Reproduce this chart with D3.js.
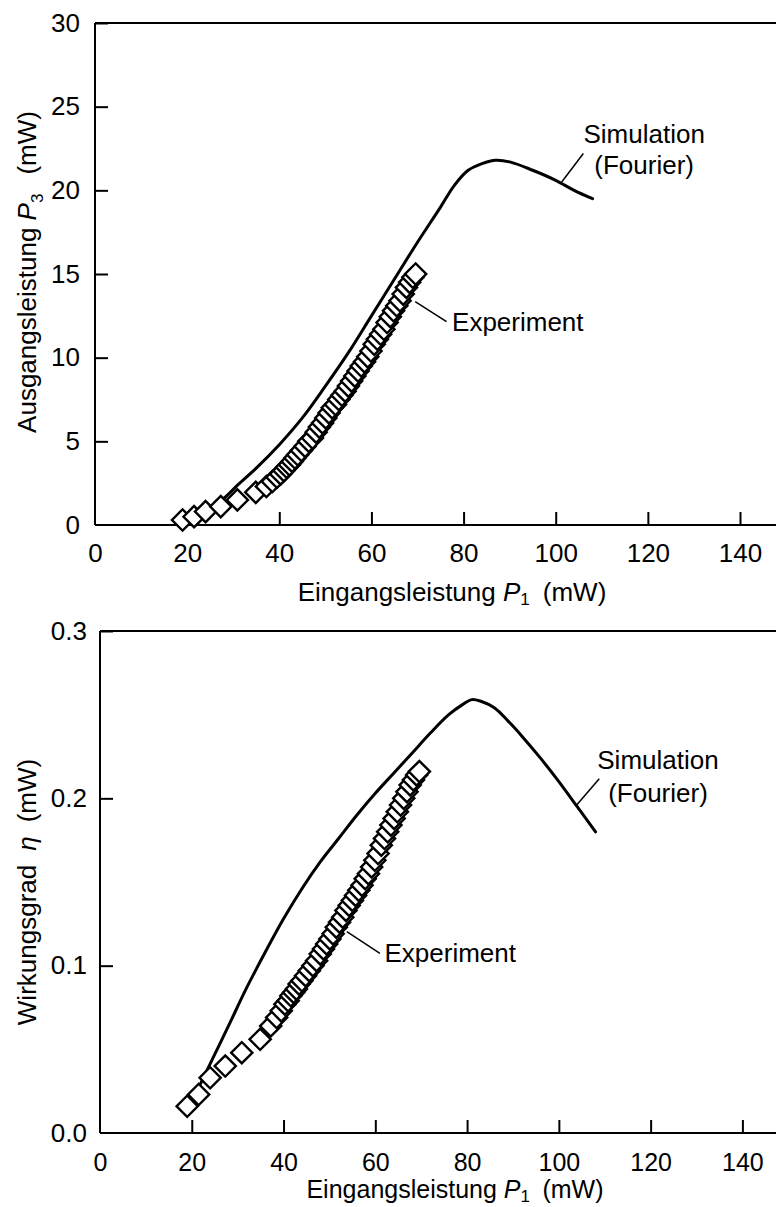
<!DOCTYPE html>
<html><head><meta charset="utf-8">
<script src="https://cdn.jsdelivr.net/npm/d3@7"></script>
<style>
html,body{margin:0;padding:0;background:#fff;}
svg{display:block;font-family:"Liberation Sans",Arial,sans-serif;}
</style></head>
<body>
<svg id="c" width="776" height="1207"></svg>
<script>
// ---------- DATA ----------
const xTicks = [0, 20, 40, 60, 80, 100, 120, 140];
const yTicksTop = [0, 5, 10, 15, 20, 25, 30];
const yTicksBottom = [0.0, 0.1, 0.2, 0.3];

// Simulation (Fourier): P1 (mW) vs P3 (mW)
const simP1Top = [19, 22, 25, 28, 31, 35, 40, 45, 50, 55, 60, 65, 70, 75, 78, 81, 84, 87, 90, 95, 100, 104, 108];
const simP3    = [0.2, 0.5, 1.0, 1.6, 2.4, 3.4, 4.8, 6.4, 8.3, 10.3, 12.5, 14.7, 16.9, 19.0, 20.3, 21.2, 21.6, 21.8, 21.7, 21.2, 20.6, 20.0, 19.5];

// Simulation (Fourier): P1 vs efficiency
const simP1Bot = [19, 22, 25, 28, 32, 36, 40, 44, 48, 52, 56, 60, 64, 68, 72, 76, 79, 81, 83, 86, 89, 92, 96, 100, 104, 108];
const simEta   = [0.013, 0.030, 0.047, 0.064, 0.087, 0.108, 0.128, 0.146, 0.162, 0.176, 0.190, 0.203, 0.215, 0.227, 0.239, 0.250, 0.256, 0.259, 0.258, 0.254, 0.246, 0.237, 0.224, 0.210, 0.195, 0.180];

// Experiment
const expP1 = [19.0, 21.5, 24.0, 27.3, 30.9, 34.9, 37.2, 38.5, 39.5, 40.3, 41.0, 41.6, 42.2, 42.8, 43.4, 44.0, 44.8, 45.6, 46.4, 47.2,
               48.0, 48.7, 49.4, 50.1, 50.8, 51.5, 52.2, 52.9, 53.6, 54.3, 55.0, 55.7, 56.4, 57.1, 57.8, 58.5, 59.2, 59.9, 60.6, 61.3,
               62.0, 62.7, 63.4, 64.1, 64.8, 65.5, 66.2, 66.9, 67.6, 68.3, 69.0, 69.6];
const expP3 = [0.3, 0.5, 0.8, 1.1, 1.5, 1.95, 2.3, 2.6, 2.85, 3.05, 3.25, 3.45, 3.6, 3.8, 4.0, 4.2, 4.45, 4.7, 5.0, 5.2,
               5.55, 5.85, 6.1, 6.4, 6.7, 7.0, 7.2, 7.5, 7.75, 8.0, 8.3, 8.6, 8.9, 9.2, 9.5, 9.75, 10.05, 10.4, 10.8, 11.1,
               11.4, 11.7, 12.1, 12.45, 12.8, 13.1, 13.4, 13.8, 14.2, 14.5, 14.8, 15.0];
const expEta = [0.016, 0.023, 0.033, 0.040, 0.048, 0.056, 0.064, 0.069, 0.073, 0.077, 0.079, 0.082, 0.084, 0.086, 0.089, 0.091, 0.094, 0.097, 0.100, 0.103,
                0.107, 0.110, 0.113, 0.116, 0.119, 0.123, 0.126, 0.129, 0.133, 0.136, 0.139, 0.142, 0.145, 0.148, 0.152, 0.155, 0.159, 0.163, 0.167, 0.172,
                0.176, 0.180, 0.184, 0.188, 0.192, 0.196, 0.200, 0.204, 0.208, 0.211, 0.214, 0.216];

// ---------- DRAW ----------
const W = 776;
const svg = d3.select("#c");

function panel(cfg) {
  const FS = cfg.fs;
  const g = svg.append("g");
  const x = d3.scaleLinear().domain([0, 140]).range(cfg.xr);
  const y = d3.scaleLinear().domain(cfg.yd).range(cfg.yr);

  // x axis
  const xa = g.append("g").attr("transform", `translate(0,${y(cfg.yd[0])})`)
    .call(d3.axisBottom(x).tickValues(xTicks).tickSizeInner(-13).tickSizeOuter(0).tickPadding(cfg.xpad).tickFormat(d3.format("d")));
  xa.select(".domain").remove();
  xa.selectAll(".tick line").attr("stroke", "#000").attr("stroke-width", 2).filter(d => d === 0).remove();
  xa.selectAll("text").attr("font-size", FS).attr("fill", "#000").attr("font-family", "Liberation Sans, Arial, sans-serif");
  g.append("line").attr("x1", x(0)).attr("x2", W).attr("y1", y(cfg.yd[0])).attr("y2", y(cfg.yd[0]))
    .attr("stroke", "#000").attr("stroke-width", 2);
  // top border
  g.append("line").attr("x1", x(0)).attr("x2", W).attr("y1", y(cfg.yd[1])).attr("y2", y(cfg.yd[1]))
    .attr("stroke", "#000").attr("stroke-width", 2);

  // y axis
  const ya = g.append("g").attr("transform", `translate(${x(0)},0)`)
    .call(d3.axisLeft(y).tickValues(cfg.yTicks).tickSizeInner(-13).tickSizeOuter(0).tickPadding(cfg.ypad).tickFormat(cfg.yfmt));
  ya.select(".domain").remove();
  ya.selectAll(".tick line").attr("stroke", "#000").attr("stroke-width", 2).filter(d => d === cfg.yd[0]).remove();
  ya.selectAll("text").attr("font-size", 26).attr("fill", "#000").attr("font-family", "Liberation Sans, Arial, sans-serif");
  g.append("line").attr("x1", x(0)).attr("x2", x(0)).attr("y1", y(cfg.yd[0])).attr("y2", y(cfg.yd[1]))
    .attr("stroke", "#000").attr("stroke-width", 2);

  // simulation line
  const line = d3.line().x(d => x(d[0])).y(d => y(d[1])).curve(d3.curveCatmullRom.alpha(0.5));
  g.append("path").datum(d3.zip(cfg.simX, cfg.simY)).attr("d", line)
    .attr("fill", "none").attr("stroke", "#000").attr("stroke-width", 3).attr("stroke-linejoin", "round").attr("stroke-linecap", "round");

  // experiment diamonds
  const sym = d3.symbol().type(d3.symbolSquare).size(15 * 15);
  g.append("g").selectAll("path").data(d3.zip(cfg.expX, cfg.expY)).join("path")
    .attr("d", sym)
    .attr("transform", d => `translate(${x(d[0])},${y(d[1])}) rotate(45)`)
    .attr("fill", "#fff").attr("stroke", "#000").attr("stroke-width", 2.4);

  // annotations
  const an = cfg.ann;
  g.append("line").attr("x1", x(an.simLead[0][0])).attr("y1", y(an.simLead[0][1]))
    .attr("x2", x(an.simLead[1][0])).attr("y2", y(an.simLead[1][1])).attr("stroke", "#000").attr("stroke-width", 1.5);
  g.append("text").attr("x", x(an.simText[0])).attr("y", y(an.simText[1])).attr("text-anchor", "middle")
    .attr("dy", "0.35em").attr("font-size", 26).text("Simulation");
  g.append("text").attr("x", x(an.simText[0])).attr("y", y(an.simText[2])).attr("text-anchor", "middle")
    .attr("dy", "0.35em").attr("font-size", 26).text("(Fourier)");
  g.append("line").attr("x1", x(an.expLead[0][0])).attr("y1", y(an.expLead[0][1]))
    .attr("x2", x(an.expLead[1][0])).attr("y2", y(an.expLead[1][1])).attr("stroke", "#000").attr("stroke-width", 1.5);
  g.append("text").attr("x", x(an.expText[0])).attr("y", y(an.expText[1]))
    .attr("dy", "0.35em").attr("font-size", 26).text("Experiment");

  // x title
  const xt = g.append("text").attr("x", cfg.xTitle[0]).attr("y", cfg.xTitle[1]).attr("text-anchor", "middle")
    .attr("dy", "0.35em").attr("font-size", FS);
  xt.append("tspan").text("Eingangsleistung ");
  xt.append("tspan").attr("font-style", "italic").text("P");
  xt.append("tspan").attr("font-size", 17).attr("dy", 4).text("1");
  xt.append("tspan").attr("dy", -4).text("\u2002(mW)");

  // y title
  const yt = g.append("text").attr("transform", `translate(${cfg.yTitle[0]},${cfg.yTitle[1]}) rotate(-90)`)
    .attr("text-anchor", "middle").attr("dy", "0.35em").attr("font-size", 26);
  cfg.yTitleParts(yt);
}

panel({
  fs: 26,
  xr: [95, 740], yd: [0, 30], yr: [525, 23], yTicks: yTicksTop, yfmt: d3.format("d"),
  xpad: 19, ypad: 15,
  simX: simP1Top, simY: simP3, expX: expP1, expY: expP3,
  ann: { simLead: [[101.3, 20.5], [106.0, 22.2]], simText: [119.2, 23.4, 21.5],
         expLead: [[69.5, 13.35], [76.3, 12.15]], expText: [77.5, 12.15] },
  xTitle: [452, 592], yTitle: [27, 272],
  yTitleParts: t => {
    t.append("tspan").text("Ausgangsleistung ");
    t.append("tspan").attr("font-style", "italic").text("P");
    t.append("tspan").attr("font-size", 17).attr("dy", 7).text("3");
    t.append("tspan").attr("dy", -7).attr("dx", 6).text("\u2002(mW)");
  }
});

panel({
  fs: 25,
  xr: [100, 742.4], yd: [0, 0.3], yr: [1133, 631], yTicks: yTicksBottom, yfmt: d3.format(".1f"),
  xpad: 20, ypad: 13,
  simX: simP1Bot, simY: simEta, expX: expP1, expY: expEta,
  ann: { simLead: [[103.7, 0.1954], [108.8, 0.2117]], simText: [121.6, 0.2229, 0.2032],
         expLead: [[53.8, 0.1203], [61.0, 0.1074]], expText: [62.0, 0.1074] },
  xTitle: [455, 1189], yTitle: [27, 892],
  yTitleParts: t => {
    t.append("tspan").text("Wirkungsgrad");
    t.append("tspan").attr("font-style", "italic").attr("dx", 14).text("\u03B7");
    t.append("tspan").attr("dx", 14).text("(mW)");
  }
});
</script>
</body></html>
